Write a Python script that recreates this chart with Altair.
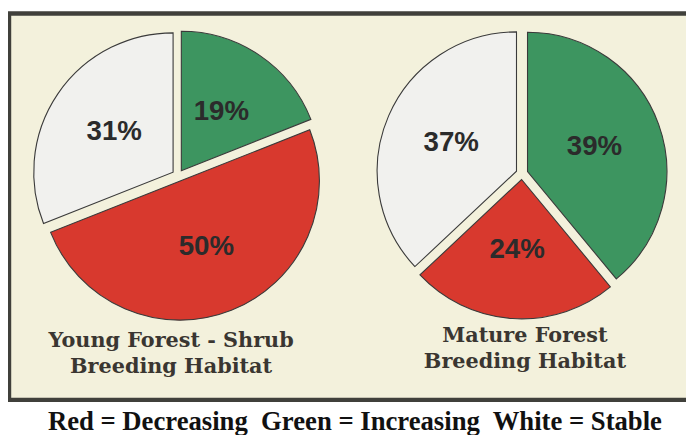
import math
import altair as alt
import pandas as pd

# ---- data ----
pies = ["Young Forest - Shrub", "Mature Forest"]
pie_titles = ["Young Forest - Shrub\nBreeding Habitat", "Mature Forest\nBreeding Habitat"]
categories = ["Increasing", "Decreasing", "Stable"]          # clockwise from 12 o'clock
young_forest = [19, 50, 31]
mature_forest = [39, 24, 37]
caption = "Red = Decreasing\u00a0 Green = Increasing\u00a0 White = Stable"

# ---- layout / style ----
W, H = 686, 427
CENTERS = {"Young Forest - Shrub": (172, 167), "Mature Forest": (520, 165)}
TITLE_POS = {"Young Forest - Shrub": (165, 340), "Mature Forest": (523, 335)}
RADIUS = 141
EXPLODE = 6
LABEL_R = 72
COLORS = {"Increasing": "#3d9560", "Decreasing": "#d8392e", "Stable": "#f1f1ee"}

rows = []
for pie, vals in zip(pies, [young_forest, mature_forest]):
    cx0, cy0 = CENTERS[pie]
    acc = 0.0
    for cat, v in zip(categories, vals):
        t0 = acc / 100 * 2 * math.pi
        acc += v
        t1 = acc / 100 * 2 * math.pi
        mid = (t0 + t1) / 2
        cx = cx0 + EXPLODE * math.sin(mid)
        cy = cy0 - EXPLODE * math.cos(mid)
        rows.append({
            "pie": pie, "category": cat, "value": v, "label": f"{v}%",
            "t0": t0, "t1": t1, "cx": cx, "cy": cy,
            "lx": cx + LABEL_R * math.sin(mid), "ly": cy - LABEL_R * math.cos(mid),
        })
slices = pd.DataFrame(rows)

titles = pd.DataFrame({
    "pie": pies,
    "title": pie_titles,
    "tx": [TITLE_POS[p][0] for p in pies],
    "ty": [TITLE_POS[p][1] for p in pies],
})

one = pd.DataFrame({"k": [0]})

panel = alt.Chart(one).mark_rect(
    fill="#f3f1dc", stroke="#40403b", strokeWidth=4.5
).encode(
    x=alt.value(1), x2=alt.value(760), y=alt.value(3), y2=alt.value(394)
)

arcs = alt.Chart(slices).mark_arc(
    outerRadius=RADIUS, stroke="#3a3a3a", strokeWidth=1.1
).encode(
    x=alt.X("cx:Q", scale=None),
    y=alt.Y("cy:Q", scale=None),
    theta=alt.Theta("t0:Q", scale=None),
    theta2="t1:Q",
    color=alt.Color("category:N",
                    scale=alt.Scale(domain=list(COLORS.keys()), range=list(COLORS.values())),
                    legend=None),
)

pct = alt.Chart(slices).mark_text(
    font="Liberation Sans", fontWeight="bold", fontSize=28, color="#2b2b2b",
    align="center", baseline="middle"
).encode(
    x=alt.X("lx:Q", scale=None),
    y=alt.Y("ly:Q", scale=None),
    text="label:N",
)

title_text = alt.Chart(titles).mark_text(
    font="DejaVu Serif", fontWeight="bold", fontSize=21, color="#3a3631",
    align="center", baseline="alphabetic", lineBreak="\n", lineHeight=27
).encode(
    x=alt.X("tx:Q", scale=None),
    y=alt.Y("ty:Q", scale=None),
    text="title:N",
)

cap = alt.Chart(one).mark_text(
    font="Liberation Serif", fontWeight="bold", fontSize=27, color="#111111",
    align="center", baseline="alphabetic", text=caption
).encode(x=alt.value(351), y=alt.value(424))

chart = alt.layer(panel, arcs, pct, title_text, cap).properties(
    width=W, height=H, autosize=alt.AutoSizeParams(type="none"), padding=0,
    background="white"
).configure_view(stroke=None)

chart.save("out.html", embed_options={"renderer": "svg", "actions": False})
